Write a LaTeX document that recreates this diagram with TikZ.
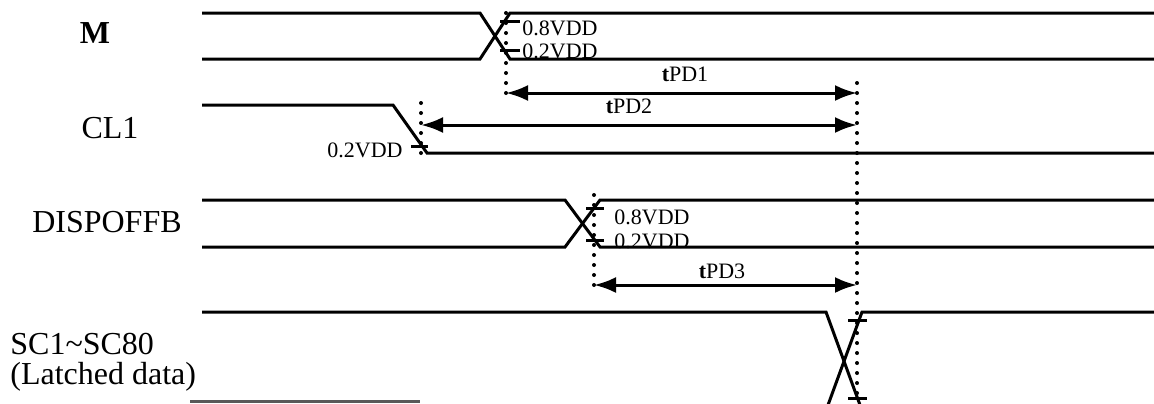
\documentclass[tikz,border=0pt]{standalone}
\usepackage{fontspec}
\setmainfont{Liberation Serif}
\usetikzlibrary{arrows.meta}
\begin{document}
\begin{tikzpicture}[x=0.5pt, y=-0.5pt,
        sig/.style = {line width=1.5pt},
        lvltick/.style = {line width=1.5pt},
        dotline/.style = {line width=2pt, line cap=round, dash pattern=on 0pt off 5pt},
        dimarrow/.style = {line width=1.5pt, {Latex[length=11pt,width=8pt]}-{Latex[length=11pt,width=8pt]}},
        signame/.style = {font=\fontsize{16}{18}\selectfont, inner sep=0pt},
        lvl/.style = {font=\fontsize{11}{12}\selectfont, inner sep=0pt},
        tpd/.style = {font=\fontsize{11}{12}\selectfont, inner sep=0pt, anchor=base}]
    \useasboundingbox (0,0) rectangle (1154,403);
    % signal names
    \node[signame, font=\fontsize{16}{18}\selectfont\bfseries] (nM) at (95,33) {M};
    \node[signame] (nCL) at (110,128) {CL1};
    \node[signame] (nDISP) at (107,222) {DISPOFFB};
    \node[signame, anchor=west, align=left, font=\fontsize{16}{15}\selectfont] (nSC) at (10,362)
        {SC1\textasciitilde SC80\\(Latched data)};
    % M
    \draw[sig] (202,13) -- (480,13) -- (510,59) -- (1154,59);
    \draw[sig] (202,59) -- (480,59) -- (510,13) -- (1154,13);
    \draw[lvltick] (500,21) -- (520,21);
    \draw[lvltick] (500,50) -- (520,50);
    \node[lvl, anchor=west] (mhi) at (522,28) {0.8VDD};
    \node[lvl, anchor=west] (mlo) at (522,51) {0.2VDD};
    % CL1
    \draw[sig] (202,105) -- (393,105) -- (427,153) -- (1154,153);
    \draw[lvltick] (411,146) -- (428,146);
    \node[lvl, anchor=east] (cllo) at (403,150) {0.2VDD};
    % DISPOFFB
    \draw[sig] (202,200) -- (565,200) -- (600,247) -- (1154,247);
    \draw[sig] (202,247) -- (565,247) -- (600,200) -- (1154,200);
    \draw[lvltick] (586,208) -- (604,208);
    \draw[lvltick] (586,240) -- (604,240);
    \node[lvl, anchor=west] (dhi) at (614,217) {0.8VDD};
    \node[lvl, anchor=west] (dlo) at (614,241) {0.2VDD};
    % SC1~SC80
    \draw[sig] (202,312) -- (826,312) -- (860,405);
    \draw[sig] (828,405) -- (862,312) -- (1154,312);
    \draw[sig, black!65] (190,401.5) -- (420,401.5);
    \draw[lvltick] (848,320) -- (867,320);
    \draw[lvltick] (848,398) -- (867,398);
    % reference lines
    \coordinate (mtop) at (506,13);
    \coordinate (mbot) at (506,93);
    \coordinate (cltop) at (421,103);
    \coordinate (clbot) at (421,125);
    \coordinate (clend) at (421,157);
    \coordinate (dtop) at (594,195);
    \coordinate (dbot) at (594,285);
    \coordinate (sctop) at (857,83);
    \coordinate (scbot) at (857,396);
    \coordinate (pd1) at (857,93);
    \coordinate (pd2) at (857,125);
    \coordinate (pd3) at (857,285);
    \draw[dotline] (mtop) -- (mbot);
    \draw[dotline] (cltop) -- (clend);
    \draw[dotline] (dtop) -- (dbot);
    \draw[dotline] (sctop) -- (scbot);
    % delays
    \draw[dimarrow] (mbot) -- (pd1);
    \draw[dimarrow] (clbot) -- (pd2);
    \draw[dimarrow] (dbot) -- (pd3);
    \node[tpd] (tpd1) at (685,81) {{\bfseries t}PD1};
    \node[tpd] (tpd2) at (629,113) {{\bfseries t}PD2};
    \node[tpd] (tpd3) at (722,278) {{\bfseries t}PD3};
\end{tikzpicture}
\end{document}
